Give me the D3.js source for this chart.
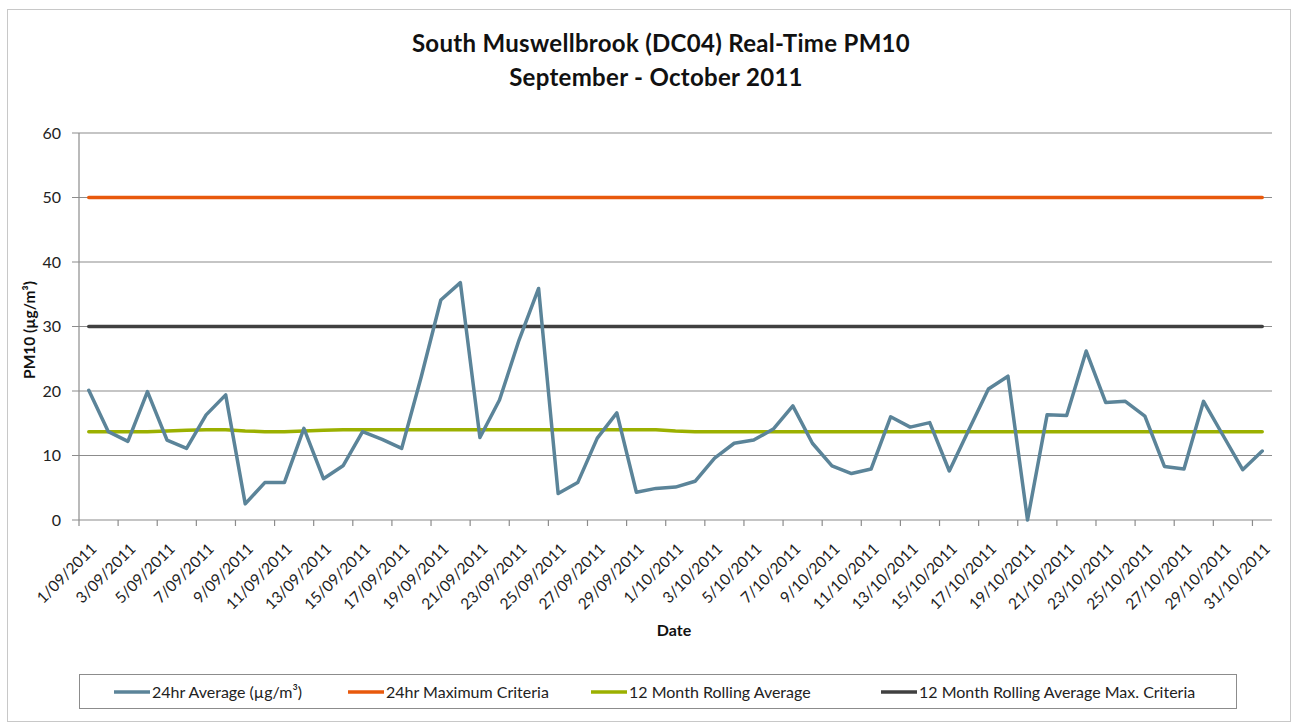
<!DOCTYPE html>
<html><head><meta charset="utf-8">
<script src="https://cdn.jsdelivr.net/npm/d3@7"></script>
<style>body{margin:0;background:#fff;font-family:Lato,"Open Sans",sans-serif;}</style>
</head><body>
<svg id="c" width="1300" height="722"></svg>
<script>
const dates = [];
for (let d = 1; d <= 30; d++) dates.push(d + "/09/2011");
for (let d = 1; d <= 31; d++) dates.push(d + "/10/2011");
const avg24 = [20.1,13.7,12.2,19.9,12.4,11.1,16.3,19.4,2.5,5.8,5.8,14.2,6.4,8.4,13.7,12.5,11.1,22.2,34.1,36.8,
  12.8,18.6,27.9,35.9,4.1,5.8,12.7,16.6,4.3,4.9,5.1,6.0,9.6,11.9,12.4,14.1,17.7,11.9,8.4,7.2,
  7.9,16.0,14.4,15.1,7.6,14.0,20.3,22.3,0.0,16.3,16.2,26.2,18.2,18.4,16.1,8.3,7.9,18.4,13.1,7.8,10.7];
const maxCrit = dates.map(() => 50);
const rolling = [13.7,13.7,13.7,13.7,13.8,13.9,14.0,14.0,13.8,13.7,13.7,13.8,13.9,14.0,14.0,14.0,14.0,14.0,14.0,14.0,
  14.0,14.0,14.0,14.0,14.0,14.0,14.0,14.0,14.0,14.0,13.8,13.7,13.7,13.7,13.7,13.7,13.7,13.7,13.7,13.7,
  13.7,13.7,13.7,13.7,13.7,13.7,13.7,13.7,13.7,13.7,13.7,13.7,13.7,13.7,13.7,13.7,13.7,13.7,13.7,13.7,13.7];
const rollCrit = dates.map(() => 30);
const yTicks = [0,10,20,30,40,50,60];
const seriesNames = ["24hr Average (\u00b5g/m\u00b3)","24hr Maximum Criteria","12 Month Rolling Average","12 Month Rolling Average Max. Criteria"];
const colors = ["#5B8499","#E8590C","#9BB000","#404040"];

const svg = d3.select("#c");
const L = 79, R = 1272, T = 133, B = 520;
svg.append("rect").attr("x",7.5).attr("y",9.5).attr("width",1283).attr("height",712).attr("fill","none").attr("stroke","#c8c8c8");

const x = d3.scaleBand().domain(dates).range([L, R]);
const y = d3.scaleLinear().domain([0, 60]).range([B, T]);

svg.append("g").selectAll("line").data(yTicks).join("line")
  .attr("x1", L - 7).attr("x2", R).attr("y1", d => y(d)).attr("y2", d => y(d))
  .attr("stroke", "#8c8c8c").attr("stroke-width", 1.2);
svg.append("line").attr("x1",L).attr("x2",L).attr("y1",T).attr("y2",B).attr("stroke","#8c8c8c").attr("stroke-width",1.2);
svg.append("g").selectAll("text").data(yTicks).join("text")
  .attr("x", L - 18).attr("y", d => y(d)).attr("dy","0.36em").attr("text-anchor","end")
  .attr("font-size",16).attr("fill","#222").text(d => d);
const tickIdx = d3.range(0, 61, 2);
svg.append("g").selectAll("line").data(tickIdx).join("line")
  .attr("x1", i => x(dates[i])).attr("x2", i => x(dates[i])).attr("y1", B).attr("y2", B + 6)
  .attr("stroke","#8c8c8c").attr("stroke-width",1.2);
svg.append("g").selectAll("text").data(tickIdx).join("text")
  .attr("transform", i => `translate(${x(dates[i]) + x.bandwidth()/2 + 5},${B + 26}) rotate(-45)`)
  .attr("text-anchor","end").attr("dy","0.35em").attr("font-size",15.5).attr("fill","#222")
  .text(i => dates[i]);

const cx = d => x(d) + x.bandwidth()/2;
const line = d3.line().x((v,i) => cx(dates[i])).y(v => y(v));
const all = [avg24, maxCrit, rolling, rollCrit];
[1,3,2,0].forEach(k => {
  svg.append("path").datum(all[k]).attr("d", line).attr("fill","none")
    .attr("stroke", colors[k]).attr("stroke-width", 3.5).attr("stroke-linejoin","round").attr("stroke-linecap","round");
});

svg.append("text").attr("x",661).attr("y",52).attr("text-anchor","middle").attr("font-weight","bold").attr("font-size",24).attr("letter-spacing",0.3).attr("fill","#111").text("South Muswellbrook (DC04) Real-Time PM10");
svg.append("text").attr("x",656).attr("y",86).attr("text-anchor","middle").attr("font-weight","bold").attr("font-size",24).attr("letter-spacing",0.3).attr("fill","#111").text("September - October 2011");
svg.append("text").attr("x",674).attr("y",636).attr("text-anchor","middle").attr("font-weight","bold").attr("font-size",16).attr("fill","#111").text("Date");
svg.append("text").attr("transform","translate(35,330) rotate(-90)").attr("text-anchor","middle").attr("font-weight","bold").attr("font-size",15.5).attr("fill","#111").text("PM10 (\u00b5g/m\u00b3)");

svg.append("rect").attr("x",79.5).attr("y",674.5).attr("width",1157).attr("height",34).attr("fill","none").attr("stroke","#8c8c8c");
const legX = [114, 348, 591, 881];
seriesNames.forEach((n, k) => {
  svg.append("line").attr("x1",legX[k]).attr("x2",legX[k]+36).attr("y1",692).attr("y2",692).attr("stroke",colors[k]).attr("stroke-width",3.5);
  svg.append("text").attr("x",legX[k]+38).attr("y",692).attr("dy","0.35em").attr("font-size",16).attr("fill","#222").text(n);
});
</script>
</body></html>
